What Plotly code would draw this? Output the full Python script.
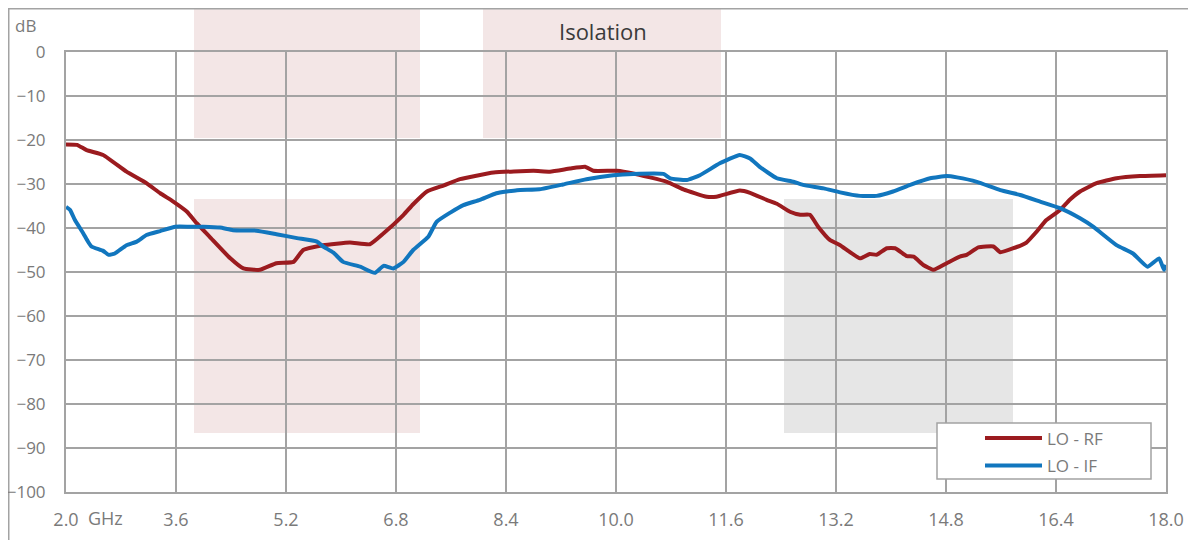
import plotly.graph_objects as go

# ---- data ----
rf_freq = [2.00, 2.16, 2.30, 2.54, 2.88, 3.17, 3.37, 3.56, 3.76, 3.90, 4.09, 4.39, 4.58, 4.82,
           5.06, 5.31, 5.45, 5.74, 6.13, 6.42, 6.62, 6.91, 7.05, 7.25, 7.50, 7.73, 8.22, 8.80,
           9.04, 9.33, 9.55, 9.67, 10.01, 10.25, 10.74, 10.98, 11.32, 11.46, 11.80, 11.95,
           12.19, 12.34, 12.53, 12.68, 12.82, 12.94, 13.11, 13.26, 13.55, 13.69, 13.79, 13.94,
           14.06, 14.23, 14.33, 14.47, 14.62, 14.81, 15.00, 15.10, 15.27, 15.49, 15.59, 15.78,
           15.97, 16.12, 16.26, 16.46, 16.60, 16.75, 16.99, 17.28, 17.62, 18.00]
rf_db = [-21.0, -21.1, -22.3, -23.4, -27.2, -29.8, -32.1, -34.0, -36.3, -38.9, -42.0, -46.9, -49.2, -49.5,
         -48.0, -47.7, -45.0, -43.9, -43.3, -43.7, -41.2, -37.0, -34.6, -31.7, -30.3, -28.9, -27.4, -27.0,
         -27.2, -26.5, -26.1, -27.0, -27.0, -27.6, -29.5, -31.2, -32.9, -32.9, -31.5, -32.0,
         -33.6, -34.5, -36.3, -37.0, -37.0, -39.7, -42.7, -43.9, -46.9, -45.9, -46.1, -44.6,
         -44.6, -46.4, -46.5, -48.4, -49.5, -48.0, -46.5, -46.1, -44.4, -44.2, -45.5, -44.6,
         -43.3, -40.8, -38.2, -35.9, -33.6, -31.7, -29.8, -28.7, -28.2, -28.0]

if_freq = [2.00, 2.06, 2.13, 2.25, 2.32, 2.37, 2.54, 2.62, 2.71, 2.88, 3.03, 3.17, 3.37, 3.59, 3.80,
           4.00, 4.24, 4.43, 4.77, 5.06, 5.36, 5.65, 5.74, 5.89, 6.03, 6.28, 6.49, 6.62, 6.76, 6.91,
           7.05, 7.27, 7.39, 7.59, 7.78, 8.02, 8.26, 8.56, 8.89, 9.23, 9.57, 9.96, 10.25, 10.69,
           10.79, 11.03, 11.22, 11.51, 11.80, 11.95, 12.09, 12.34, 12.58, 12.72, 13.02, 13.26,
           13.55, 13.79, 14.03, 14.28, 14.57, 14.81, 14.96, 15.25, 15.59, 15.88, 16.17, 16.46,
           16.75, 16.94, 17.28, 17.52, 17.73, 17.90, 17.97, 18.00]
if_db = [-35.2, -35.9, -38.2, -41.2, -43.1, -44.2, -45.2, -46.1, -45.8, -43.9, -43.1, -41.6, -40.7, -39.7, -39.7,
         -39.7, -39.9, -40.5, -40.6, -41.4, -42.3, -43.1, -44.2, -45.6, -47.7, -48.8, -50.2, -48.6, -49.2, -47.7,
         -45.0, -42.0, -38.6, -36.5, -34.8, -33.6, -32.1, -31.4, -31.2, -30.1, -28.9, -28.0, -27.7, -27.7,
         -28.7, -29.1, -28.0, -25.3, -23.4, -24.2, -26.1, -28.7, -29.5, -30.2, -31.0, -31.9,
         -32.7, -32.7, -31.7, -30.2, -28.7, -28.2, -28.5, -29.5, -31.4, -32.5, -34.0, -35.5,
         -37.8, -39.7, -43.9, -45.8, -48.8, -46.9, -49.5, -48.4]

x_ticks = [2.0, 3.6, 5.2, 6.8, 8.4, 10.0, 11.6, 13.2, 14.8, 16.4, 18.0]
x_tick_labels = ["%.1f" % v for v in x_ticks]
y_ticks = [0, -10, -20, -30, -40, -50, -60, -70, -80, -90, -100]
series_names = ["LO - RF", "LO - IF"]
series_colors = ["#9B1B1F", "#1176BE"]

# page offset of the figure (browser body margin)
OFF = 8
W, H = 1196 - OFF, 540 - OFF
# plot-area edges in page pixels
L, R, T, B = 66, 1166, 52, 492


def px_x(p):
    return (p - L) / (R - L)


def px_y(p):
    return (B - p) / (B - T)


GRID = "#A3A3A3"
TXT = "#7A7A7A"
FONT = "Open Sans"

fig = go.Figure()
fig.add_trace(go.Scatter(x=rf_freq, y=rf_db, mode="lines", name=series_names[0],
                         line=dict(color=series_colors[0], width=4, shape="spline", smoothing=0.4),
                         showlegend=False))
fig.add_trace(go.Scatter(x=if_freq, y=if_db, mode="lines", name=series_names[1],
                         line=dict(color=series_colors[1], width=4, shape="spline", smoothing=0.4),
                         showlegend=False))

PINK = "#F3E6E6"
GRAY = "#E6E6E6"
shapes = []
# background highlight boxes (page pixel bounds)
for (x0, x1, y0, y1, c) in [
    (194, 420, 0, 138, PINK),
    (483, 721, 0, 138, PINK),
    (194, 420, 199, 433, PINK),
    (784, 1013, 199, 433, GRAY),
]:
    shapes.append(dict(type="rect", xref="paper", yref="paper", layer="below",
                       x0=px_x(x0), x1=px_x(x1), y0=px_y(y1), y1=px_y(y0),
                       fillcolor=c, line=dict(width=0)))
# outer frame
shapes.append(dict(type="rect", xref="paper", yref="paper", layer="below",
                   x0=px_x(OFF + 0.5), x1=px_x(1240), y0=px_y(600), y1=px_y(OFF + 0.5),
                   fillcolor="rgba(0,0,0,0)", line=dict(color=GRID, width=2)))
# legend box
shapes.append(dict(type="rect", xref="paper", yref="paper", layer="above",
                   x0=px_x(937), x1=px_x(1151), y0=px_y(479), y1=px_y(423),
                   fillcolor="white", line=dict(color=GRID, width=1.5)))
annotations = []
for (yy, nm, col) in [(438, series_names[0], series_colors[0]),
                      (465.5, series_names[1], series_colors[1])]:
    shapes.append(dict(type="line", xref="paper", yref="paper", layer="above",
                       x0=px_x(985), x1=px_x(1042), y0=px_y(yy), y1=px_y(yy),
                       line=dict(color=col, width=4)))
    annotations.append(dict(xref="paper", yref="paper", x=px_x(1045), y=px_y(yy),
                            xanchor="left", yanchor="middle", text=nm, showarrow=False,
                            font=dict(family=FONT, size=17, color=TXT)))

annotations += [
    dict(xref="paper", yref="paper", x=px_x(603), y=px_y(31), text="Isolation",
         showarrow=False, xanchor="center", yanchor="middle",
         font=dict(family=FONT, size=22, color="#3A3A3A")),
    dict(xref="paper", yref="paper", x=px_x(13), y=px_y(25), text="dB",
         showarrow=False, xanchor="left", yanchor="middle",
         font=dict(family=FONT, size=17, color=TXT)),
    dict(xref="paper", yref="paper", x=px_x(86), y=px_y(518), text="GHz",
         showarrow=False, xanchor="left", yanchor="middle",
         font=dict(family=FONT, size=18, color=TXT)),
]

fig.update_layout(
    width=W, height=H,
    margin=dict(l=L - OFF, r=(W + OFF) - R, t=T - OFF, b=(H + OFF) - B, pad=0),
    paper_bgcolor="white", plot_bgcolor="white",
    shapes=shapes, annotations=annotations,
    showlegend=False,
    font=dict(family=FONT, size=18, color=TXT),
)
fig.update_xaxes(range=[2, 18], tickvals=x_ticks, ticktext=x_tick_labels,
                 showgrid=True, gridcolor=GRID, gridwidth=2,
                 showline=True, linecolor=GRID, linewidth=2, mirror=True,
                 ticks="", zeroline=False, ticklabelstandoff=10, automargin=False,
                 tickfont=dict(family=FONT, size=18, color=TXT))
fig.update_yaxes(range=[-100, 0], tickvals=y_ticks,
                 showgrid=True, gridcolor=GRID, gridwidth=2,
                 showline=True, linecolor=GRID, linewidth=2, mirror=True,
                 ticks="", zeroline=False, ticklabelstandoff=15, automargin=False,
                 tickfont=dict(family=FONT, size=17, color=TXT))

fig.write_html("out.html")
